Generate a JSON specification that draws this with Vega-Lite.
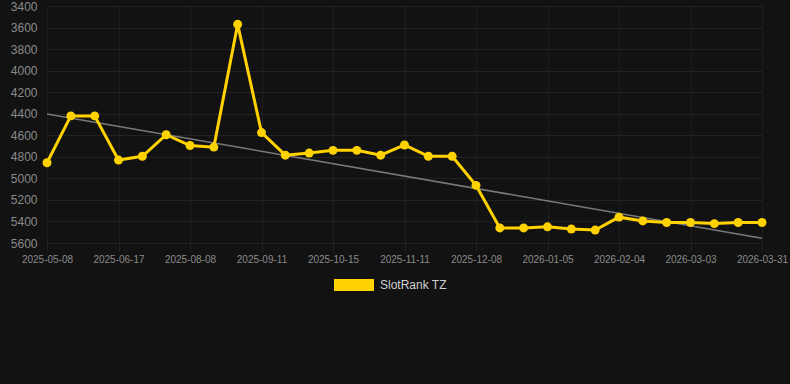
{
  "$schema": "https://vega.github.io/schema/vega-lite/v6.json",
  "width": 750,
  "height": 237,
  "autosize": {"type": "none"},
  "padding": {"left": 40, "top": 6, "right": 0, "bottom": 141},
  "background": "#121212",
  "config": {
    "view": {"stroke": null},
    "font": "Liberation Sans"
  },
  "datasets": {
    "rank": [
      {"date": "2025-05-08", "rank": 4855, "series": "SlotRank TZ"},
      {"date": "2025-05-21", "rank": 4420, "series": "SlotRank TZ"},
      {"date": "2025-06-03", "rank": 4420, "series": "SlotRank TZ"},
      {"date": "2025-06-17", "rank": 4830, "series": "SlotRank TZ"},
      {"date": "2025-07-04", "rank": 4795, "series": "SlotRank TZ"},
      {"date": "2025-07-21", "rank": 4595, "series": "SlotRank TZ"},
      {"date": "2025-08-08", "rank": 4695, "series": "SlotRank TZ"},
      {"date": "2025-08-19", "rank": 4710, "series": "SlotRank TZ"},
      {"date": "2025-08-30", "rank": 3570, "series": "SlotRank TZ"},
      {"date": "2025-09-11", "rank": 4575, "series": "SlotRank TZ"},
      {"date": "2025-09-22", "rank": 4785, "series": "SlotRank TZ"},
      {"date": "2025-10-03", "rank": 4765, "series": "SlotRank TZ"},
      {"date": "2025-10-15", "rank": 4740, "series": "SlotRank TZ"},
      {"date": "2025-10-24", "rank": 4740, "series": "SlotRank TZ"},
      {"date": "2025-11-02", "rank": 4785, "series": "SlotRank TZ"},
      {"date": "2025-11-11", "rank": 4690, "series": "SlotRank TZ"},
      {"date": "2025-11-20", "rank": 4795, "series": "SlotRank TZ"},
      {"date": "2025-11-29", "rank": 4795, "series": "SlotRank TZ"},
      {"date": "2025-12-08", "rank": 5065, "series": "SlotRank TZ"},
      {"date": "2025-12-17", "rank": 5460, "series": "SlotRank TZ"},
      {"date": "2025-12-26", "rank": 5460, "series": "SlotRank TZ"},
      {"date": "2026-01-05", "rank": 5450, "series": "SlotRank TZ"},
      {"date": "2026-01-15", "rank": 5470, "series": "SlotRank TZ"},
      {"date": "2026-01-25", "rank": 5480, "series": "SlotRank TZ"},
      {"date": "2026-02-04", "rank": 5360, "series": "SlotRank TZ"},
      {"date": "2026-02-13", "rank": 5395, "series": "SlotRank TZ"},
      {"date": "2026-02-22", "rank": 5410, "series": "SlotRank TZ"},
      {"date": "2026-03-03", "rank": 5410, "series": "SlotRank TZ"},
      {"date": "2026-03-12", "rank": 5420, "series": "SlotRank TZ"},
      {"date": "2026-03-21", "rank": 5410, "series": "SlotRank TZ"},
      {"date": "2026-03-31", "rank": 5410, "series": "SlotRank TZ"}
    ],
    "trend": [
      {"date": "2025-05-08", "rank": 4402},
      {"date": "2026-03-31", "rank": 5555}
    ]
  },
  "encoding": {
    "x": {
      "field": "date",
      "type": "ordinal",
      "scale": {"type": "point", "padding": 0, "range": [7, 722]},
      "axis": {
        "title": null,
        "values": ["2025-05-08", "2025-06-17", "2025-08-08", "2025-09-11", "2025-10-15", "2025-11-11", "2025-12-08", "2026-01-05", "2026-02-04", "2026-03-03", "2026-03-31"],
        "labelAngle": 0,
        "labelFontSize": 10,
        "labelColor": "#8a8a8a",
        "labelPadding": 3,
        "tickSize": 8,
        "tickColor": "#222222",
        "domain": false,
        "grid": true,
        "gridColor": "#1e1e1e",
        "labelFont": "Liberation Sans"
      }
    },
    "y": {
      "field": "rank",
      "type": "quantitative",
      "scale": {"domain": [3400, 5600], "reverse": true, "nice": false, "zero": false},
      "axis": {
        "title": null,
        "values": [3400, 3600, 3800, 4000, 4200, 4400, 4600, 4800, 5000, 5200, 5400, 5600],
        "format": "d",
        "labelFontSize": 12,
        "labelColor": "#8a8a8a",
        "labelPadding": 3,
        "ticks": false,
        "domain": false,
        "grid": true,
        "gridColor": "#222222",
        "labelFont": "Liberation Sans"
      }
    }
  },
  "layer": [
    {
      "data": {"name": "trend"},
      "mark": {"type": "line", "color": "#7a7a7a", "strokeWidth": 1.5},
      "encoding": {}
    },
    {
      "data": {"name": "rank"},
      "mark": {"type": "line", "strokeWidth": 3, "point": {"filled": true, "size": 80, "opacity": 1}},
      "encoding": {
        "color": {
          "field": "series",
          "type": "nominal",
          "scale": {"range": ["#FFD200"]},
          "legend": {
            "title": null,
            "orient": "none",
            "legendX": 294,
            "legendY": 259,
            "symbolType": "M-1,-0.3H1V0.3H-1Z",
            "symbolSize": 1600,
            "symbolFillColor": "#FFD200",
            "symbolStrokeColor": "#FFD200",
            "symbolStrokeWidth": 0,
            "labelColor": "#d0d0d0",
            "labelFontSize": 12,
            "labelOffset": 6,
            "labelFont": "Liberation Sans"
          }
        }
      }
    }
  ]
}
